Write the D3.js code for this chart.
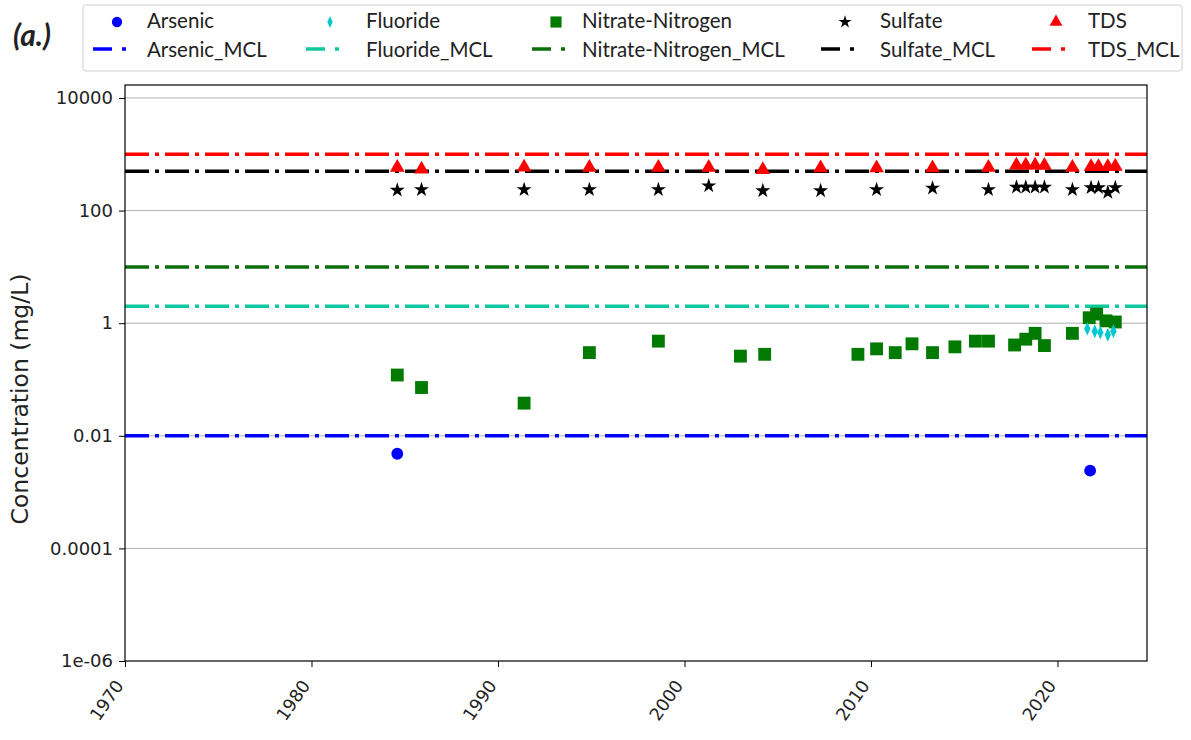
<!DOCTYPE html>
<html>
<head>
<meta charset="utf-8">
<script src="https://cdn.jsdelivr.net/npm/d3@7"></script>
<style>
  body { margin: 0; background: #fff; }
  svg text { fill: #222; }
</style>
</head>
<body>
<svg id="chart" width="1191" height="740"></svg>
<script>
// sample data (year, mg/L)
var arsenicYears = [1984.6, 2021.75];
var arsenicVals = [0.0048, 0.0024];

var fluorideYears = [2021.6, 2022.0, 2022.3, 2022.7, 2023.0];
var fluorideVals = [0.8, 0.72, 0.68, 0.62, 0.72];

var nitrateYears = [1984.6, 1985.9, 1991.4, 1994.9, 1998.6, 2003.0, 2004.3, 2009.3, 2010.3, 2011.3, 2012.2,
                    2013.3, 2014.5, 2015.6, 2016.3, 2017.7, 2018.3, 2018.8, 2019.3, 2020.8, 2021.7, 2022.1, 2022.6, 2023.1];
var nitrateVals = [0.12, 0.072, 0.038, 0.3, 0.48, 0.26, 0.28, 0.28, 0.35, 0.3, 0.43,
                   0.3, 0.38, 0.48, 0.48, 0.41, 0.52, 0.66, 0.4, 0.66, 1.25, 1.45, 1.1, 1.05];

var sulfateYears = [1984.6, 1985.9, 1991.4, 1994.9, 1998.6, 2001.3, 2004.2, 2007.3, 2010.3, 2013.3, 2016.3,
                    2017.8, 2018.3, 2018.8, 2019.3, 2020.8, 2021.8, 2022.2, 2022.7, 2023.1];
var sulfateVals = [230, 235, 235, 235, 235, 275, 225, 225, 235, 250, 235,
                   260, 260, 260, 260, 235, 255, 255, 210, 255];

var tdsYears = [1984.6, 1985.9, 1991.4, 1994.9, 1998.6, 2001.3, 2004.2, 2007.3, 2010.3, 2013.3, 2016.3,
                2017.8, 2018.3, 2018.8, 2019.3, 2020.8, 2021.8, 2022.2, 2022.7, 2023.1];
var tdsVals = [580, 540, 590, 580, 580, 580, 530, 570, 570, 570, 580,
               640, 640, 640, 630, 580, 600, 600, 600, 610];

var mclNames = ["Arsenic", "Fluoride", "Nitrate-Nitrogen", "Sulfate", "TDS"];
var mclVals = [0.01, 2, 10, 500, 1000];

var xTicks = [1970, 1980, 1990, 2000, 2010, 2020];
var yTicks = [1e-6, 1e-4, 1e-2, 1, 100, 10000];
var yTickLabels = ["1e-06", "0.0001", "0.01", "1", "100", "10000"];

var markerColors = ["#0000ff", "#00c8d0", "#007a00", "#000000", "#ff0000"];
var lineColors = ["#0000ff", "#10c8a0", "#0a6e0a", "#000000", "#ff0000"];

var svg = d3.select("#chart");
var m = {l: 125, r: 1147, t: 85, b: 661};

var x = d3.scaleLinear().domain([1970, 2024.8]).range([m.l, m.r]);
var y = d3.scaleLog().domain([1e-6, 17000]).range([m.b, m.t]);

// grid
svg.append("g").selectAll("line").data(yTicks.slice(1)).enter().append("line")
  .attr("x1", m.l).attr("x2", m.r)
  .attr("y1", function(d) { return y(d); }).attr("y2", function(d) { return y(d); })
  .attr("stroke", "#b0b0b0").attr("stroke-width", 1);

// MCL lines
var mcl = svg.append("g");
mclVals.forEach(function(v, i) {
  mcl.append("line")
    .attr("x1", m.l).attr("x2", m.r)
    .attr("y1", y(v)).attr("y2", y(v))
    .attr("stroke", lineColors[i]).attr("stroke-width", 3.5)
    .attr("stroke-dasharray", "24,6,4,6");
});

function zip(xs, ys) { return xs.map(function(d, i) { return [d, ys[i]]; }); }

var thinDiamond = {
  draw: function(ctx, size) {
    var h = Math.sqrt(size) * 0.9, w = h * 0.45;
    ctx.moveTo(0, -h); ctx.lineTo(w, 0); ctx.lineTo(0, h); ctx.lineTo(-w, 0); ctx.closePath();
  }
};

var series = [
  {data: zip(arsenicYears, arsenicVals), sym: d3.symbolCircle, size: 110, c: markerColors[0]},
  {data: zip(fluorideYears, fluorideVals), sym: thinDiamond, size: 60, c: markerColors[1]},
  {data: zip(nitrateYears, nitrateVals), sym: d3.symbolSquare, size: 165, c: markerColors[2]},
  {data: zip(sulfateYears, sulfateVals), sym: d3.symbolStar, size: 70, c: markerColors[3]},
  {data: zip(tdsYears, tdsVals), sym: d3.symbolTriangle, size: 95, c: markerColors[4]}
];

// plot order: nitrate then fluoride then others
[2, 1, 0, 3, 4].forEach(function(i) {
  var s = series[i];
  svg.append("g").selectAll("path").data(s.data).enter().append("path")
    .attr("transform", function(d) { return "translate(" + x(d[0]) + "," + y(d[1]) + ")"; })
    .attr("d", d3.symbol().type(s.sym).size(s.size))
    .attr("fill", s.c);
});

// frame
svg.append("rect").attr("x", m.l).attr("y", m.t).attr("width", m.r - m.l).attr("height", m.b - m.t)
  .attr("fill", "none").attr("stroke", "#000").attr("stroke-width", 1.2);

// axes
var xAxis = svg.append("g").attr("transform", "translate(0," + m.b + ")")
  .call(d3.axisBottom(x).tickValues(xTicks).tickFormat(d3.format("d")).tickSize(6));
xAxis.select(".domain").remove();
xAxis.selectAll("text")
  .attr("font-family", "DejaVu Sans, sans-serif").attr("font-size", 17.5)
  .style("text-anchor", "end")
  .attr("x", 0).attr("y", 0).attr("dy", "0.35em")
  .attr("transform", "translate(-6,21) rotate(-55)");

var yAxis = svg.append("g").attr("transform", "translate(" + m.l + ",0)")
  .call(d3.axisLeft(y).tickValues(yTicks).tickFormat(function(d, i) { return yTickLabels[i]; }).tickSize(6));
yAxis.select(".domain").remove();
yAxis.selectAll("text").attr("font-family", "DejaVu Sans, sans-serif").attr("font-size", 18).attr("x", -12);

svg.append("text")
  .attr("transform", "translate(28,399) rotate(-90)")
  .attr("text-anchor", "middle")
  .attr("font-family", "DejaVu Sans, sans-serif").attr("font-size", 23.5)
  .text("Concentration (mg/L)");

// panel label
svg.append("text").attr("x", 13).attr("y", 46)
  .attr("font-family", "Lato, sans-serif").attr("font-size", 30)
  .attr("font-weight", "bold").attr("font-style", "italic")
  .text("(a.)");

// legend
var leg = svg.append("g");
leg.append("rect").attr("x", 83).attr("y", 5).attr("width", 1099).attr("height", 66)
  .attr("rx", 3).attr("fill", "#fff").attr("stroke", "#d0d0d0");

var legX = [117, 330, 556, 845, 1056];
var legTextX = [147, 366, 582, 880, 1088];
series.forEach(function(s, i) {
  leg.append("path")
    .attr("transform", "translate(" + legX[i] + ",22)")
    .attr("d", d3.symbol().type(s.sym).size(s.size * 0.75))
    .attr("fill", s.c);
  leg.append("text").attr("x", legTextX[i]).attr("y", 28)
    .attr("font-family", "Lato, sans-serif").attr("font-size", 20.5)
    .text(mclNames[i]);
  leg.append("line")
    .attr("x1", legX[i] - 24).attr("x2", legX[i] + 9)
    .attr("y1", 49).attr("y2", 49)
    .attr("stroke", lineColors[i]).attr("stroke-width", 3.5)
    .attr("stroke-dasharray", "19,10,4,6");
  leg.append("text").attr("x", legTextX[i]).attr("y", 57)
    .attr("font-family", "Lato, sans-serif").attr("font-size", 20.5)
    .text(mclNames[i] + "_MCL");
});
</script>
</body>
</html>
